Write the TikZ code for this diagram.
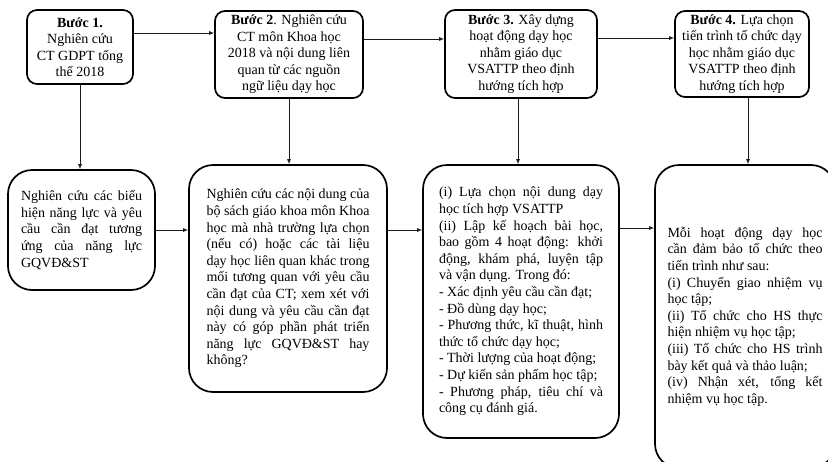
\documentclass[tikz,border=0pt]{standalone}
\usepackage{fontspec}
\setmainfont{Liberation Serif}
\usepackage{tikz}
\usetikzlibrary{arrows.meta,positioning,calc}
\definecolor{ink}{HTML}{000000}
\definecolor{linegray}{HTML}{1A1A1A}

\begin{document}
\begin{tikzpicture}[x=1pt, y=-1pt,
  stepbox/.style={draw=ink, line width=1.7pt, rounded corners=10pt,
              align=center, inner sep=2pt,
              font=\rmfamily\fontsize{14pt}{16.5pt}\selectfont},
  taskbox/.style={draw=ink, line width=1.7pt, rounded corners=24pt,
              align=justify, inner sep=0pt,
              font=\rmfamily\fontsize{14pt}{16.6pt}\selectfont},
  flow arrow/.style={-{Latex[length=5pt,width=4pt]}, linegray, line width=0.8pt}
]
  \useasboundingbox (0,0) rectangle (828,461);
  \clip (0,0) rectangle (828,461);

  \node[stepbox, minimum width=106pt, minimum height=74pt] (t1) at (80,47)
    {\textbf{Bước 1.}\\Nghiên cứu\\CT GDPT tổng\\thể 2018};
  \node[stepbox, minimum width=148pt, minimum height=87pt] (t2) at (289,54.5)
    {\textbf{Bước 2}. Nghiên cứu\\CT môn Khoa học\\2018 và nội dung liên\\quan từ các nguồn\\ngữ liệu dạy học};
  \node[stepbox, minimum width=152pt, minimum height=88pt] (t3) at (521,54)
    {\textbf{Bước 3.} Xây dựng\\hoạt động dạy học\\nhằm giáo dục\\VSATTP theo định\\hướng tích hợp};
  \node[stepbox, minimum width=134pt, minimum height=86pt] (t4) at (742,54)
    {\textbf{Bước 4.} Lựa chọn\\tiến trình tổ chức dạy\\học nhằm giáo dục\\VSATTP theo định\\hướng tích hợp};

  \node[taskbox, text width=121pt, minimum width=147pt, minimum height=120pt] (b1) at (81.5,230)
    {Nghiên cứu các biểu\linebreak hiện năng lực và yêu\linebreak cầu cần đạt tương\linebreak ứng của năng lực\linebreak GQVĐ\&ST};
  \node[taskbox, text width=163pt, minimum width=198pt, minimum height=227pt] (b2) at (288,278.5)
    {Nghiên cứu các nội dung của\linebreak bộ sách giáo khoa môn Khoa\linebreak học mà nhà trường lựa chọn\linebreak (nếu có) hoặc các tài liệu\linebreak dạy học liên quan khác trong\linebreak mối tương quan với yêu cầu\linebreak cần đạt của CT; xem xét với\linebreak nội dung và yêu cầu cần đạt\linebreak này có góp phần phát triển\linebreak năng lực GQVĐ\&ST hay\linebreak không?};
  \node[taskbox, text width=164pt, minimum width=196pt, minimum height=273pt] (b3) at (521,301.5)
    {(i) Lựa chọn nội dung dạy\linebreak học tích hợp VSATTP\\
     (ii) Lập kế hoạch bài học,\linebreak bao gồm 4 hoạt động: khởi\linebreak động, khám phá, luyện tập\linebreak và vận dụng. Trong đó:\\
     - Xác định yêu cầu cần đạt;\\
     - Đồ dùng dạy học;\\
     - Phương thức, kĩ thuật, hình\linebreak thức tổ chức dạy học;\\
     - Thời lượng của hoạt động;\\
     - Dự kiến sản phẩm học tập;\\
     - Phương pháp, tiêu chí và\linebreak công cụ đánh giá.};
  \node[taskbox, text width=155pt, minimum width=180pt, minimum height=303pt] (b4) at (745,316.5)
    {Mỗi hoạt động dạy học\linebreak cần đảm bảo tổ chức theo\linebreak tiến trình như sau:\\
     (i) Chuyển giao nhiệm vụ\linebreak học tập;\\
     (ii) Tổ chức cho HS thực\linebreak hiện nhiệm vụ học tập;\\
     (iii) Tổ chức cho HS trình\linebreak bày kết quả và thảo luận;\\
     (iv) Nhận xét, tổng kết\linebreak nhiệm vụ học tập.};

  \draw[flow arrow] ([yshift=14pt]t1.east) -- ([yshift=14pt]t1.east -| t2.west);
  \draw[flow arrow] ([yshift=15.5pt]t2.east) -- ([yshift=15.5pt]t2.east -| t3.west);
  \draw[flow arrow] ([yshift=16pt]t3.east) -- ([yshift=16pt]t3.east -| t4.west);

  \draw[flow arrow] (t1.south) -- (t1.south |- b1.north);
  \draw[flow arrow] (t2.south) -- (t2.south |- b2.north);
  \draw[flow arrow] ([xshift=-3pt]t3.south) -- ([xshift=-3pt]t3.south |- b3.north);
  \draw[flow arrow] ([xshift=6pt]t4.south) -- ([xshift=6pt]t4.south |- b4.north);

  \draw[flow arrow] (b1.east) -- (b1.east -| b2.west);
  \draw[flow arrow] (b1.east -| b2.east) -- (b1.east -| b3.west);
  \draw[flow arrow] ([yshift=2pt]b1.east -| b3.east) -- ([yshift=2pt]b1.east -| b4.west);
\end{tikzpicture}
\end{document}
